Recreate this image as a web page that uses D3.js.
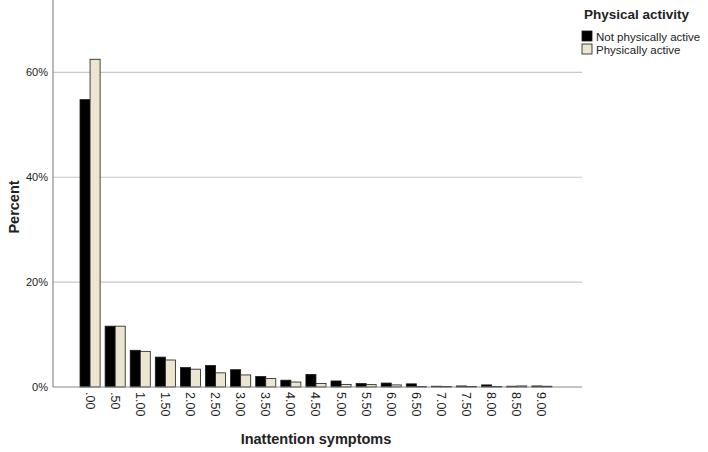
<!DOCTYPE html>
<html lang="en">
<head>
    <meta charset="UTF-8">
    <title>Inattention symptoms by physical activity</title>
    <style>
        body { margin: 0; background: #fff; }
        svg text { font-family: "Liberation Sans", Arial, sans-serif; fill: #222; }
        .tick-label { font-size: 11px; }
        .axis-title { font-size: 14.5px; font-weight: bold; }
        .legend-title { font-size: 13.5px; font-weight: bold; }
        .legend-item { font-size: 11.5px; }
    </style>
</head>
<body>

    <svg width="708" height="452"></svg>

    <script src="https://d3js.org/d3.v7.min.js"></script>

    <script>

        // Data (percent of each group)
        const categories = ['.00', '.50', '1.00', '1.50', '2.00', '2.50', '3.00', '3.50', '4.00', '4.50',
                            '5.00', '5.50', '6.00', '6.50', '7.00', '7.50', '8.00', '8.50', '9.00'];

        const seriesNames = ['Not physically active', 'Physically active'];

        const notActive = [54.8, 11.6, 7.0, 5.7, 3.7, 4.1, 3.3, 2.0, 1.3, 2.4,
                           1.15, 0.65, 0.75, 0.6, 0.15, 0.2, 0.4, 0.15, 0.2];

        const active = [62.5, 11.6, 6.8, 5.15, 3.4, 2.7, 2.3, 1.6, 0.95, 0.65,
                        0.5, 0.45, 0.4, 0.1, 0.1, 0.1, 0.1, 0.2, 0.15];

        const yTicks = [0, 20, 40, 60];

        const colors = ['#000000', '#ece5d0'];

        const svg = d3.select('svg');

        // Plot area
        const plotLeft = 53, plotRight = 582, plotTop = 0, plotBottom = 387;

        const xScale = d3.scaleBand()
            .domain(categories)
            .range([77.5, 554.4])
            .paddingInner(0.2)
            .paddingOuter(0.1);

        const xSub = d3.scaleBand()
            .domain(seriesNames)
            .range([0, xScale.bandwidth()]);

        const yScale = d3.scaleLinear()
            .domain([0, 73.8])
            .range([plotBottom, plotTop]);

        // Gridlines
        svg.append('g')
            .selectAll('line')
            .data(yTicks.filter(d => d > 0))
            .enter()
            .append('line')
            .attr('x1', plotLeft)
            .attr('x2', plotRight)
            .attr('y1', d => yScale(d))
            .attr('y2', d => yScale(d))
            .attr('stroke', '#c8c8c8')
            .attr('stroke-width', 1.2);

        // Bars
        const rows = categories.map((c, i) => ({ cat: c, values: [notActive[i], active[i]] }));

        const groups = svg.append('g')
            .selectAll('g')
            .data(rows)
            .enter()
            .append('g')
            .attr('transform', d => 'translate(' + xScale(d.cat) + ' 0)');

        groups.selectAll('rect')
            .data(d => d.values.map((v, k) => ({ name: seriesNames[k], value: v, k: k })))
            .enter()
            .append('rect')
            .attr('x', d => xSub(d.name))
            .attr('width', xSub.bandwidth())
            .attr('y', d => yScale(d.value))
            .attr('height', d => plotBottom - yScale(d.value))
            .attr('fill', d => colors[d.k])
            .attr('stroke', '#1a1a1a')
            .attr('stroke-width', 0.8);

        // Axes
        const yAxis = d3.axisLeft(yScale)
            .tickValues(yTicks)
            .tickSize(0)
            .tickPadding(5)
            .tickFormat(d => d + '%');

        const yAxisG = svg.append('g')
            .attr('transform', 'translate(' + plotLeft + ' 0)')
            .call(yAxis);
        yAxisG.select('.domain').remove();
        yAxisG.selectAll('text')
            .attr('class', 'tick-label')
            .style('font-family', '"Liberation Sans", Arial, sans-serif')
            .attr('fill', '#222');

        svg.append('line')
            .attr('x1', plotLeft).attr('x2', plotLeft)
            .attr('y1', plotTop).attr('y2', plotBottom)
            .attr('stroke', '#8a8a8a')
            .attr('stroke-width', 1.2);

        svg.append('line')
            .attr('x1', plotLeft).attr('x2', plotRight)
            .attr('y1', plotBottom).attr('y2', plotBottom)
            .attr('stroke', '#8a8a8a')
            .attr('stroke-width', 1.2);

        const xAxis = d3.axisBottom(xScale).tickSize(0).tickPadding(0);

        const xAxisG = svg.append('g')
            .attr('transform', 'translate(0 ' + plotBottom + ')')
            .call(xAxis);
        xAxisG.select('.domain').remove();
        xAxisG.selectAll('text')
            .attr('class', 'tick-label')
            .style('font-family', '"Liberation Sans", Arial, sans-serif')
            .style('font-size', '12.5px')
            .attr('fill', '#222')
            .attr('text-anchor', 'start')
            .attr('dy', null)
            .attr('y', 0)
            .attr('transform', 'translate(-4.5 5) rotate(90)');

        // Axis titles
        svg.append('text')
            .attr('class', 'axis-title')
            .attr('x', 316)
            .attr('y', 444)
            .attr('text-anchor', 'middle')
            .text('Inattention symptoms');

        svg.append('text')
            .attr('class', 'axis-title')
            .attr('transform', 'translate(19 207) rotate(-90)')
            .attr('text-anchor', 'middle')
            .text('Percent');

        // Legend
        const legend = svg.append('g').attr('transform', 'translate(582 0)');

        legend.append('text')
            .attr('class', 'legend-title')
            .attr('x', 2)
            .attr('y', 19)
            .text('Physical activity');

        const items = legend.selectAll('g.item')
            .data(seriesNames)
            .enter()
            .append('g')
            .attr('class', 'item')
            .attr('transform', (d, i) => 'translate(0 ' + (31 + i * 13) + ')');

        items.append('rect')
            .attr('width', 10)
            .attr('height', 10)
            .attr('fill', (d, i) => colors[i])
            .attr('stroke', '#1a1a1a')
            .attr('stroke-width', 0.8);

        items.append('text')
            .attr('class', 'legend-item')
            .attr('x', 14)
            .attr('y', 9.5)
            .text(d => d);

    </script>

</body>
</html>
